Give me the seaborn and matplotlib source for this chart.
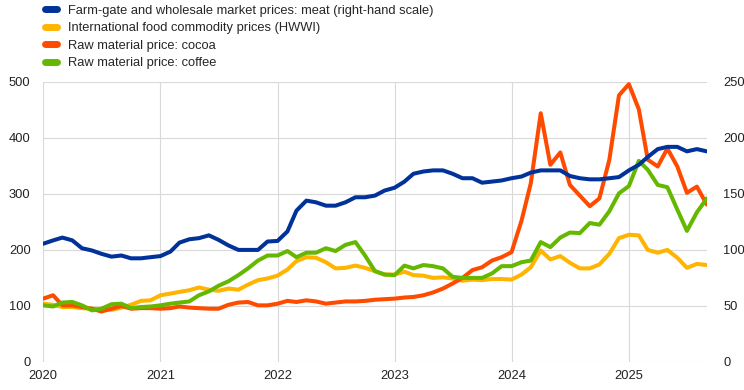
import pandas as pd
import numpy as np
import matplotlib
matplotlib.use("Agg")
import matplotlib.pyplot as plt
import matplotlib.dates as mdates
import seaborn as sns

# monthly data, Jan 2020 - Sep 2025
meat = [105.5, 108.5, 111, 108.5, 101.5, 99.5, 96.5, 94, 95, 92.5, 92.5, 93.5,
        94.5, 98.5, 106.5, 109.5, 110.5, 113, 109, 104, 100, 100, 100, 107.5,
        108, 116.5, 135, 144, 142.5, 139.5, 139.5, 142.5, 147, 147, 148.5, 153,
        155.5, 161, 168, 170, 171, 171, 168, 164, 164, 160, 161, 162,
        164, 165.5, 169, 171, 171, 171, 166, 164, 163, 163, 164, 165,
        171, 176, 183, 190, 192, 192, 188, 190, 188]
hwwi = [104, 102, 98, 98, 96, 95, 94, 93, 97, 102, 109, 110,
        119, 122, 125, 128, 133, 129, 127, 131, 129, 138, 146, 149,
        154, 165, 180, 187, 186, 178, 167, 168, 172, 168, 162, 156,
        156, 161, 155, 154, 150, 151, 149, 145, 147, 146, 148, 148,
        147, 156, 169, 199, 183, 189, 177, 167, 167, 174, 193, 221,
        227, 226, 200, 195, 200, 186, 168, 175, 173]
cocoa = [113, 119, 101, 101, 98, 95, 90, 95, 100, 95, 96, 96,
         95, 96, 99, 97, 96, 95, 95, 102, 106, 107, 101, 101,
         104, 109, 107, 110, 108, 104, 106, 108, 108, 109, 111, 112,
         113, 115, 116, 119, 124, 131, 140, 150, 164, 169, 181, 187,
         196, 252, 319, 444, 352, 374, 316, 297, 278, 292, 361, 476,
         496, 451, 361, 349, 381, 349, 302, 313, 281]
coffee = [101, 99, 106, 107, 101, 92, 95, 103, 104, 96, 98, 99,
          101, 104, 106, 108, 119, 126, 136, 144, 155, 167, 181, 190,
          190, 198, 187, 195, 195, 203, 198, 209, 214, 190, 162, 156,
          155, 172, 167, 173, 171, 167, 152, 150, 150, 150, 158, 171,
          171, 178, 181, 214, 205, 222, 231, 230, 248, 245, 269, 301,
          314, 359, 343, 316, 312, 272, 234, 267, 292]

dates = pd.date_range("2020-01-01", periods=len(meat), freq="MS")
df = pd.DataFrame({"date": dates, "meat": meat, "hwwi": hwwi,
                   "cocoa": cocoa, "coffee": coffee})

sns.set_style("white")
plt.rcParams["font.family"] = ["Liberation Sans", "DejaVu Sans"]
plt.rcParams["font.size"] = 9

fig = plt.figure(figsize=(7.44, 3.9), dpi=100)
ax = fig.add_axes([0.058, 0.072, 0.892, 0.718])
ax2 = ax.twinx()

lw = 2.9
sns.lineplot(data=df, x="date", y="hwwi", ax=ax, color="#ffb400", lw=lw,
             label="International food commodity prices (HWWI)")
sns.lineplot(data=df, x="date", y="cocoa", ax=ax, color="#ff4b00", lw=lw,
             label="Raw material price: cocoa")
sns.lineplot(data=df, x="date", y="coffee", ax=ax, color="#65b800", lw=lw,
             label="Raw material price: coffee")
sns.lineplot(data=df, x="date", y="meat", ax=ax2, color="#003299", lw=lw,
             label="Farm-gate and wholesale market prices: meat (right-hand scale)")

ax.set_ylim(0, 500)
ax2.set_ylim(0, 250)
ax.set_yticks(range(0, 501, 100))
ax2.set_yticks(range(0, 251, 50))
ax.set_xlim(dates[0], dates[-1])
ax.xaxis.set_major_locator(mdates.YearLocator())
ax.xaxis.set_major_formatter(mdates.DateFormatter("%Y"))
ax.set_xlabel("")
ax.set_ylabel("")
ax2.set_ylabel("")

ax.grid(True, color="#d9d9d9", lw=0.8)
ax.set_axisbelow(True)
for a in (ax, ax2):
    for s in a.spines.values():
        s.set_visible(False)
    a.tick_params(length=0, labelsize=9.3, colors="#222222")
ax.tick_params(axis="y", pad=9)
ax2.tick_params(axis="y", pad=12)
ax.tick_params(axis="x", pad=6)

h1, l1 = ax.get_legend_handles_labels()
h2, l2 = ax2.get_legend_handles_labels()
ax.get_legend().remove()
ax2.get_legend().remove()
leg = fig.legend(h2 + h1, l2 + l1, loc="upper left", bbox_to_anchor=(0.045, 1.018),
                 frameon=False, handlelength=0.9, handletextpad=0.9,
                 labelspacing=0.42, fontsize=9.3)
for line in leg.get_lines():
    line.set_linewidth(5)

fig.savefig("out.png", dpi=100)
